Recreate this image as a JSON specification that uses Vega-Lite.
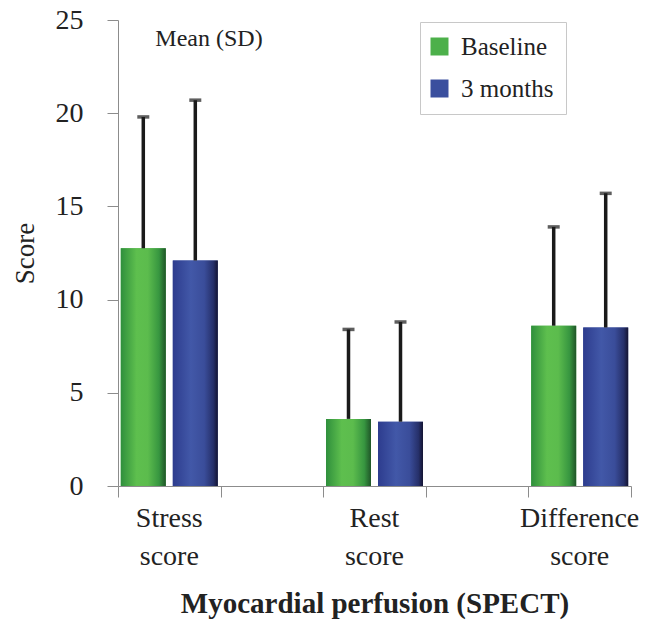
{
  "$schema": "https://vega.github.io/schema/vega-lite/v6.json",
  "autosize": {"type": "none"},
  "padding": {"left": 118, "top": 20, "right": 16, "bottom": 136},
  "width": 513,
  "height": 466,
  "background": "white",
  "config": {
    "view": {"stroke": null},
    "font": "Liberation Serif",
    "axis": {"labelFont": "Liberation Serif", "titleFont": "Liberation Serif", "labelColor": "#222222", "titleColor": "#222222", "domainColor": "#8c8c8c", "tickColor": "#8c8c8c", "grid": false}
  },
  "datasets": {
    "scores": [
      {"measure": "Stress score", "series": "Baseline", "mean": 12.75, "upper": 19.8},
      {"measure": "Stress score", "series": "3 months", "mean": 12.1, "upper": 20.7},
      {"measure": "Rest score", "series": "Baseline", "mean": 3.6, "upper": 8.4},
      {"measure": "Rest score", "series": "3 months", "mean": 3.45, "upper": 8.8},
      {"measure": "Difference score", "series": "Baseline", "mean": 8.6, "upper": 13.9},
      {"measure": "Difference score", "series": "3 months", "mean": 8.5, "upper": 15.7}
    ],
    "note": [{"text": "Mean (SD)", "measure": "Stress score", "level": 24}],
    "bounds": [{"pos": 0}, {"pos": 1}, {"pos": 2}, {"pos": 3}, {"pos": 4}, {"pos": 5}]
  },
  "layer": [
    {
      "layer": [
        {
          "data": {"name": "scores"},
          "mark": {"type": "bar"},
          "encoding": {
            "x": {
              "field": "measure", "type": "nominal",
              "scale": {"domain": ["Stress score", "gap1", "Rest score", "gap2", "Difference score"], "paddingInner": 0, "paddingOuter": 0},
              "axis": {
                "title": "Myocardial perfusion (SPECT)",
                "labelAngle": 0, "ticks": false, "domain": false,
                "labelFontSize": 28, "labelPadding": 18, "labelLineHeight": 38,
                "labelExpr": "indexof(datum.value, 'gap') == 0 ? '' : split(datum.value, ' ')",
                "titleFontSize": 29, "titleFontWeight": "bold", "titlePadding": 19
              }
            },
            "xOffset": {
              "field": "series", "type": "nominal",
              "scale": {"domain": ["Baseline", "3 months"], "paddingInner": 0.135, "paddingOuter": 0.054}
            },
            "y": {
              "field": "mean", "type": "quantitative",
              "scale": {"domain": [0, 25], "nice": false},
              "axis": {"title": "Score", "values": [0, 5, 10, 15, 20, 25], "tickSize": 11, "labelPadding": 24, "labelFontSize": 28, "titleFontSize": 27, "titleFontWeight": "normal", "titlePadding": 16}
            },
            "color": {
              "field": "series", "type": "nominal",
              "scale": {"domain": ["Baseline", "3 months"], "range": ["#4cb04a", "#3a4f9e"]},
              "legend": {
                "title": null, "orient": "none", "legendX": 302, "legendY": 2,
                "symbolType": "square", "symbolSize": 324, "symbolStrokeWidth": 0, "symbolOpacity": 1, "symbolOffset": -5,
                "labelFontSize": 25, "labelFont": "Liberation Serif", "labelColor": "#222222", "labelOffset": 9,
                "strokeColor": "#c8c8c8", "fillColor": "white", "padding": 12, "rowPadding": 16
              }
            }
          }
        },
        {
          "data": {"name": "scores"},
          "mark": {"type": "bar"},
          "encoding": {
            "x": {"field": "measure", "type": "nominal"},
            "xOffset": {"field": "series", "type": "nominal"},
            "y": {"field": "mean", "type": "quantitative"},
            "fill": {
              "condition": {
                "test": "datum.series == 'Baseline'",
                "value": {"gradient": "linear", "x1": 0, "x2": 1, "y1": 0, "y2": 0, "stops": [
                  {"offset": 0, "color": "#2f8f3c"},
                  {"offset": 0.35, "color": "#5ebf4e"},
                  {"offset": 0.6, "color": "#5cbc4d"},
                  {"offset": 0.85, "color": "#379640"},
                  {"offset": 1, "color": "#1f5528"}
                ]}
              },
              "value": {"gradient": "linear", "x1": 0, "x2": 1, "y1": 0, "y2": 0, "stops": [
                {"offset": 0, "color": "#2d3c8e"},
                {"offset": 0.4, "color": "#4258a8"},
                {"offset": 0.7, "color": "#3a4d9a"},
                {"offset": 0.9, "color": "#26306a"},
                {"offset": 1, "color": "#141432"}
              ]}
            }
          }
        },
        {
          "data": {"name": "scores"},
          "mark": {"type": "rule", "color": "#1a1a1a", "strokeWidth": 3.5},
          "encoding": {
            "x": {"field": "measure", "type": "nominal"},
            "xOffset": {"field": "series", "type": "nominal"},
            "y": {"field": "mean", "type": "quantitative"},
            "y2": {"field": "upper"}
          }
        },
        {
          "data": {"name": "scores"},
          "mark": {"type": "tick", "color": "#1a1a1a", "size": 12, "thickness": 3.5},
          "encoding": {
            "x": {"field": "measure", "type": "nominal"},
            "xOffset": {"field": "series", "type": "nominal"},
            "y": {"field": "upper", "type": "quantitative"}
          }
        },
        {
          "data": {"name": "note"},
          "mark": {"type": "text", "fontSize": 24, "font": "Liberation Serif", "color": "#222222", "align": "center", "baseline": "middle"},
          "encoding": {
            "x": {"field": "measure", "type": "nominal", "bandPosition": 0.887},
            "y": {"field": "level", "type": "quantitative"},
            "text": {"field": "text"}
          }
        }
      ]
    },
    {
      "data": {"name": "bounds"},
      "mark": {"type": "rule", "opacity": 0},
      "encoding": {
        "x": {
          "field": "pos", "type": "quantitative",
          "scale": {"domain": [0, 5], "nice": false, "zero": false},
          "axis": {"title": null, "labels": false, "values": [0, 1, 2, 3, 4, 5], "tickSize": 11, "domain": true, "orient": "bottom"}
        }
      }
    }
  ],
  "resolve": {"scale": {"x": "independent"}}
}
